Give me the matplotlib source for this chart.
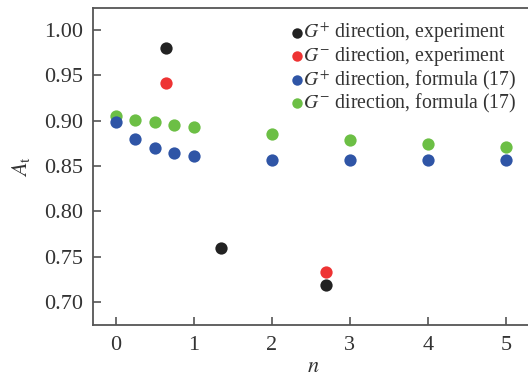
import matplotlib
matplotlib.use("Agg")
import matplotlib.pyplot as plt

# Experimental points
n_exp_plus = [0.65, 1.35, 2.7]
a_exp_plus = [0.980, 0.760, 0.719]
n_exp_minus = [0.65, 2.7]
a_exp_minus = [0.941, 0.733]

# Formula (17) values
n_formula = [0, 0.25, 0.5, 0.75, 1, 2, 3, 4, 5]
a_formula_plus = [0.899, 0.880, 0.870, 0.864, 0.861, 0.857, 0.857, 0.857, 0.857]
a_formula_minus = [0.905, 0.901, 0.898, 0.895, 0.893, 0.885, 0.879, 0.874, 0.871]

x_ticks = [0, 1, 2, 3, 4, 5]
y_ticks = [0.70, 0.75, 0.80, 0.85, 0.90, 0.95, 1.00]

plt.rcParams['font.family'] = ['Liberation Serif', 'DejaVu Serif']
plt.rcParams['mathtext.fontset'] = 'stix'

fig = plt.figure(figsize=(5.28, 3.77), dpi=100)
ax = fig.add_axes([93 / 528, 52 / 377, 1 - 93 / 528 + 0.01, (325 - 8) / 377])

text_col = '#333333'
s = 78
ax.scatter(n_exp_plus, a_exp_plus, s=s, color='#222222', lw=0, zorder=3,
           label=r'$G^{+}$ direction, experiment')
ax.scatter(n_exp_minus, a_exp_minus, s=s, color='#ee3333', lw=0, zorder=3,
           label=r'$G^{-}$ direction, experiment')
ax.scatter(n_formula, a_formula_plus, s=s, color='#2f55a6', lw=0, zorder=3,
           label=r'$G^{+}$ direction, formula (17)')
ax.scatter(n_formula, a_formula_minus, s=s, color='#6cbf45', lw=0, zorder=2,
           label=r'$G^{-}$ direction, formula (17)')

ax.set_xlim(-0.29, 5.35)
ax.set_ylim(0.675, 1.024)
ax.set_xticks(x_ticks)
ax.set_yticks(y_ticks)
ax.set_yticklabels([f'{v:.2f}' for v in y_ticks])
ax.tick_params(direction='in', length=6, width=1.2, colors='#555555',
               labelcolor=text_col, labelsize=16, pad=7)
ax.tick_params(axis='x', pad=8)
for side in ['left', 'top', 'bottom']:
    ax.spines[side].set_color('#555555')
    ax.spines[side].set_linewidth(1.3)
ax.spines['right'].set_visible(False)

ax.set_xlabel(r'$n$', fontsize=16, color=text_col, labelpad=2)
ax.set_ylabel(r'$A_{\mathrm{t}}$', fontsize=16, color=text_col, labelpad=9)

leg = ax.legend(loc='upper right', bbox_to_anchor=(0.99, 1.0), frameon=False,
                fontsize=14.2, handletextpad=-0.2, labelspacing=0.0,
                borderaxespad=0.25, markerscale=0.85, handlelength=1.0)
for t in leg.get_texts():
    t.set_color(text_col)

fig.savefig('out.png', dpi=100)
